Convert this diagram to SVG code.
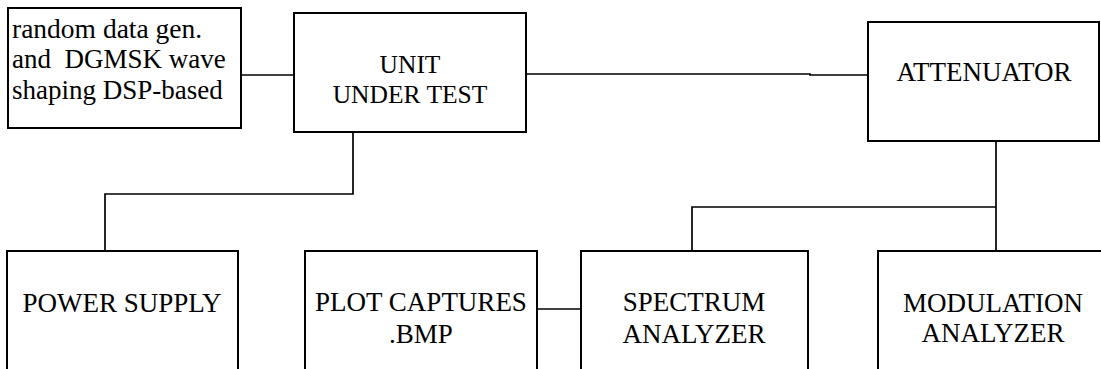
<svg xmlns="http://www.w3.org/2000/svg" width="1101" height="369" viewBox="0 0 1101 369">
<style>
.box{fill:#fff;stroke:#000;stroke-width:2}
.c{fill:none;stroke:#000;stroke-width:1.7}
.t{font-family:'Liberation Serif','Times New Roman',Times,'DejaVu Serif',serif;font-size:27px;fill:#000}
.m{text-anchor:middle}
</style>
<rect width="1101" height="369" fill="#fff"/>
<g id="connectors">
<path class="c" d="M241 75H294"/>
<path class="c" d="M526 74H810V75H878"/>
<path class="c" d="M353 132V194H105V251"/>
<path class="c" d="M996 131V251"/>
<path class="c" d="M996 207H692V251"/>
<path class="c" d="M537 309H580"/>
</g>
<g id="datagen" class="t">
<rect class="box" x="8" y="8" width="233" height="120"/>
<text x="12" y="38" style="font-size:27.5px">random data gen.</text>
<text x="12" y="68" xml:space="preserve">and  DGMSK wave</text>
<text x="12" y="99">shaping DSP-based</text>
</g>
<g id="uut" class="t">
<rect class="box" x="294" y="13" width="232" height="119"/>
<text class="m" x="410" y="73" style="font-size:25.5px">UNIT</text>
<text class="m" x="410" y="103" style="font-size:25.5px">UNDER TEST</text>
</g>
<g id="attenuator" class="t">
<rect class="box" x="868" y="22" width="231" height="119"/>
<text class="m" x="984" y="81">ATTENUATOR</text>
</g>
<g id="power" class="t">
<rect class="box" x="7" y="251" width="231" height="130"/>
<text class="m" x="122" y="312">POWER SUPPLY</text>
</g>
<g id="plot" class="t">
<rect class="box" x="305" y="251" width="232" height="130"/>
<text class="m" x="421" y="311">PLOT CAPTURES</text>
<text class="m" x="421" y="343">.BMP</text>
</g>
<g id="spectrum" class="t">
<rect class="box" x="581" y="251" width="227" height="130"/>
<text class="m" x="694" y="311">SPECTRUM</text>
<text class="m" x="694" y="343">ANALYZER</text>
</g>
<g id="modulation" class="t">
<rect class="box" x="878" y="251" width="230" height="130"/>
<text class="m" x="993" y="312">MODULATION</text>
<text class="m" x="993" y="342">ANALYZER</text>
</g>
</svg>
